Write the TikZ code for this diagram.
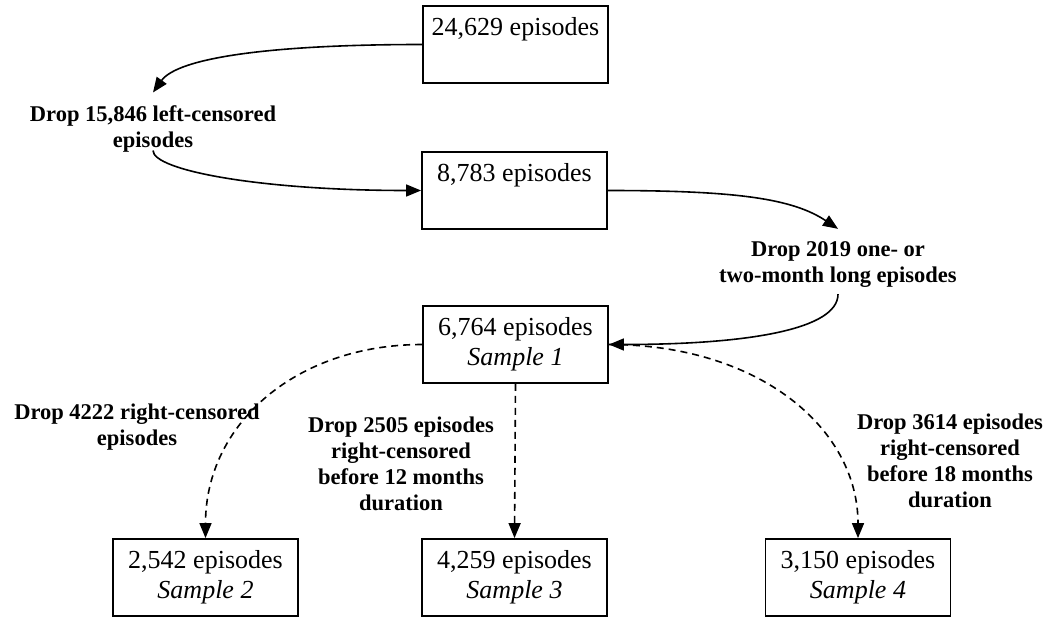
\documentclass[tikz,border=0pt]{standalone}
\usepackage{fontspec}
\setmainfont{Liberation Serif}
\usetikzlibrary{arrows.meta}
\begin{document}
\begin{tikzpicture}[x=1pt,y=1pt,
  box/.style={draw, line width=1.8pt, minimum width=185pt, minimum height=77pt, inner sep=0pt, align=center, font=\fontsize{26}{30}\selectfont},
  lbl/.style={align=center, inner sep=0pt, font=\bfseries\fontsize{22.5}{26}\selectfont},
  conn/.style={line width=1.6pt, -{Triangle[length=15pt,width=12pt]}},
  dconn/.style={conn, dash pattern=on 7pt off 5pt}]
\useasboundingbox (0,0) rectangle (1052,-618);
% boxes
\node[box] (A) at (515.5,-44.5) {\strut 24,629 episodes\\\strut};
\node[box] (B) at (514.5,-190.5) {\strut 8,783 episodes\\\strut};
\node[box] (C) at (515.5,-344.5) {\strut 6,764 episodes\\\strut\textit{Sample 1}};
\node[box] (S2) at (205.5,-577.5) {\strut 2,542 episodes\\\strut\textit{Sample 2}};
\node[box] (S3) at (514.5,-577.5) {\strut 4,259 episodes\\\strut\textit{Sample 3}};
\node[box] (S4) at (858,-577.5) {\strut 3,150 episodes\\\strut\textit{Sample 4}};
% labels
\node[lbl] (L1) at (153,-129) {Drop 15,846 left-censored\\episodes};
\node[lbl] (L2) at (838,-264) {Drop 2019 one- or\\two-month long episodes};
\node[lbl] (L3) at (137,-427) {Drop 4222 right-censored\\episodes};
\node[lbl] (L4) at (401,-464) {Drop 2505 episodes\\right-censored\\before 12 months\\duration};
\node[lbl] (L5) at (950,-461) {Drop 3614 episodes\\right-censored\\before 18 months\\duration};
% connectors
\draw[conn] (A.west) .. controls +(-150,0) and +(25,35) .. ([yshift=13pt]L1.north);
\draw[conn] ([yshift=2pt]L1.south) .. controls +(0,-20) and +(-160,0) .. (B.west);
\draw[conn] (B.east) .. controls +(130,0) and +(-45,30) .. ([yshift=12pt]L2.north);
\draw[conn] ([yshift=-7pt]L2.south) .. controls +(0,-35) and +(140,0) .. (C.east);
\draw[dconn] (C.west) .. controls +(-125,0) and +(0,115) .. (S2.north);
\draw[dconn] (C.south) -- (S3.north);
\draw[dconn] (C.east) .. controls +(150,0) and +(0,110) .. (S4.north);
\end{tikzpicture}
\end{document}
